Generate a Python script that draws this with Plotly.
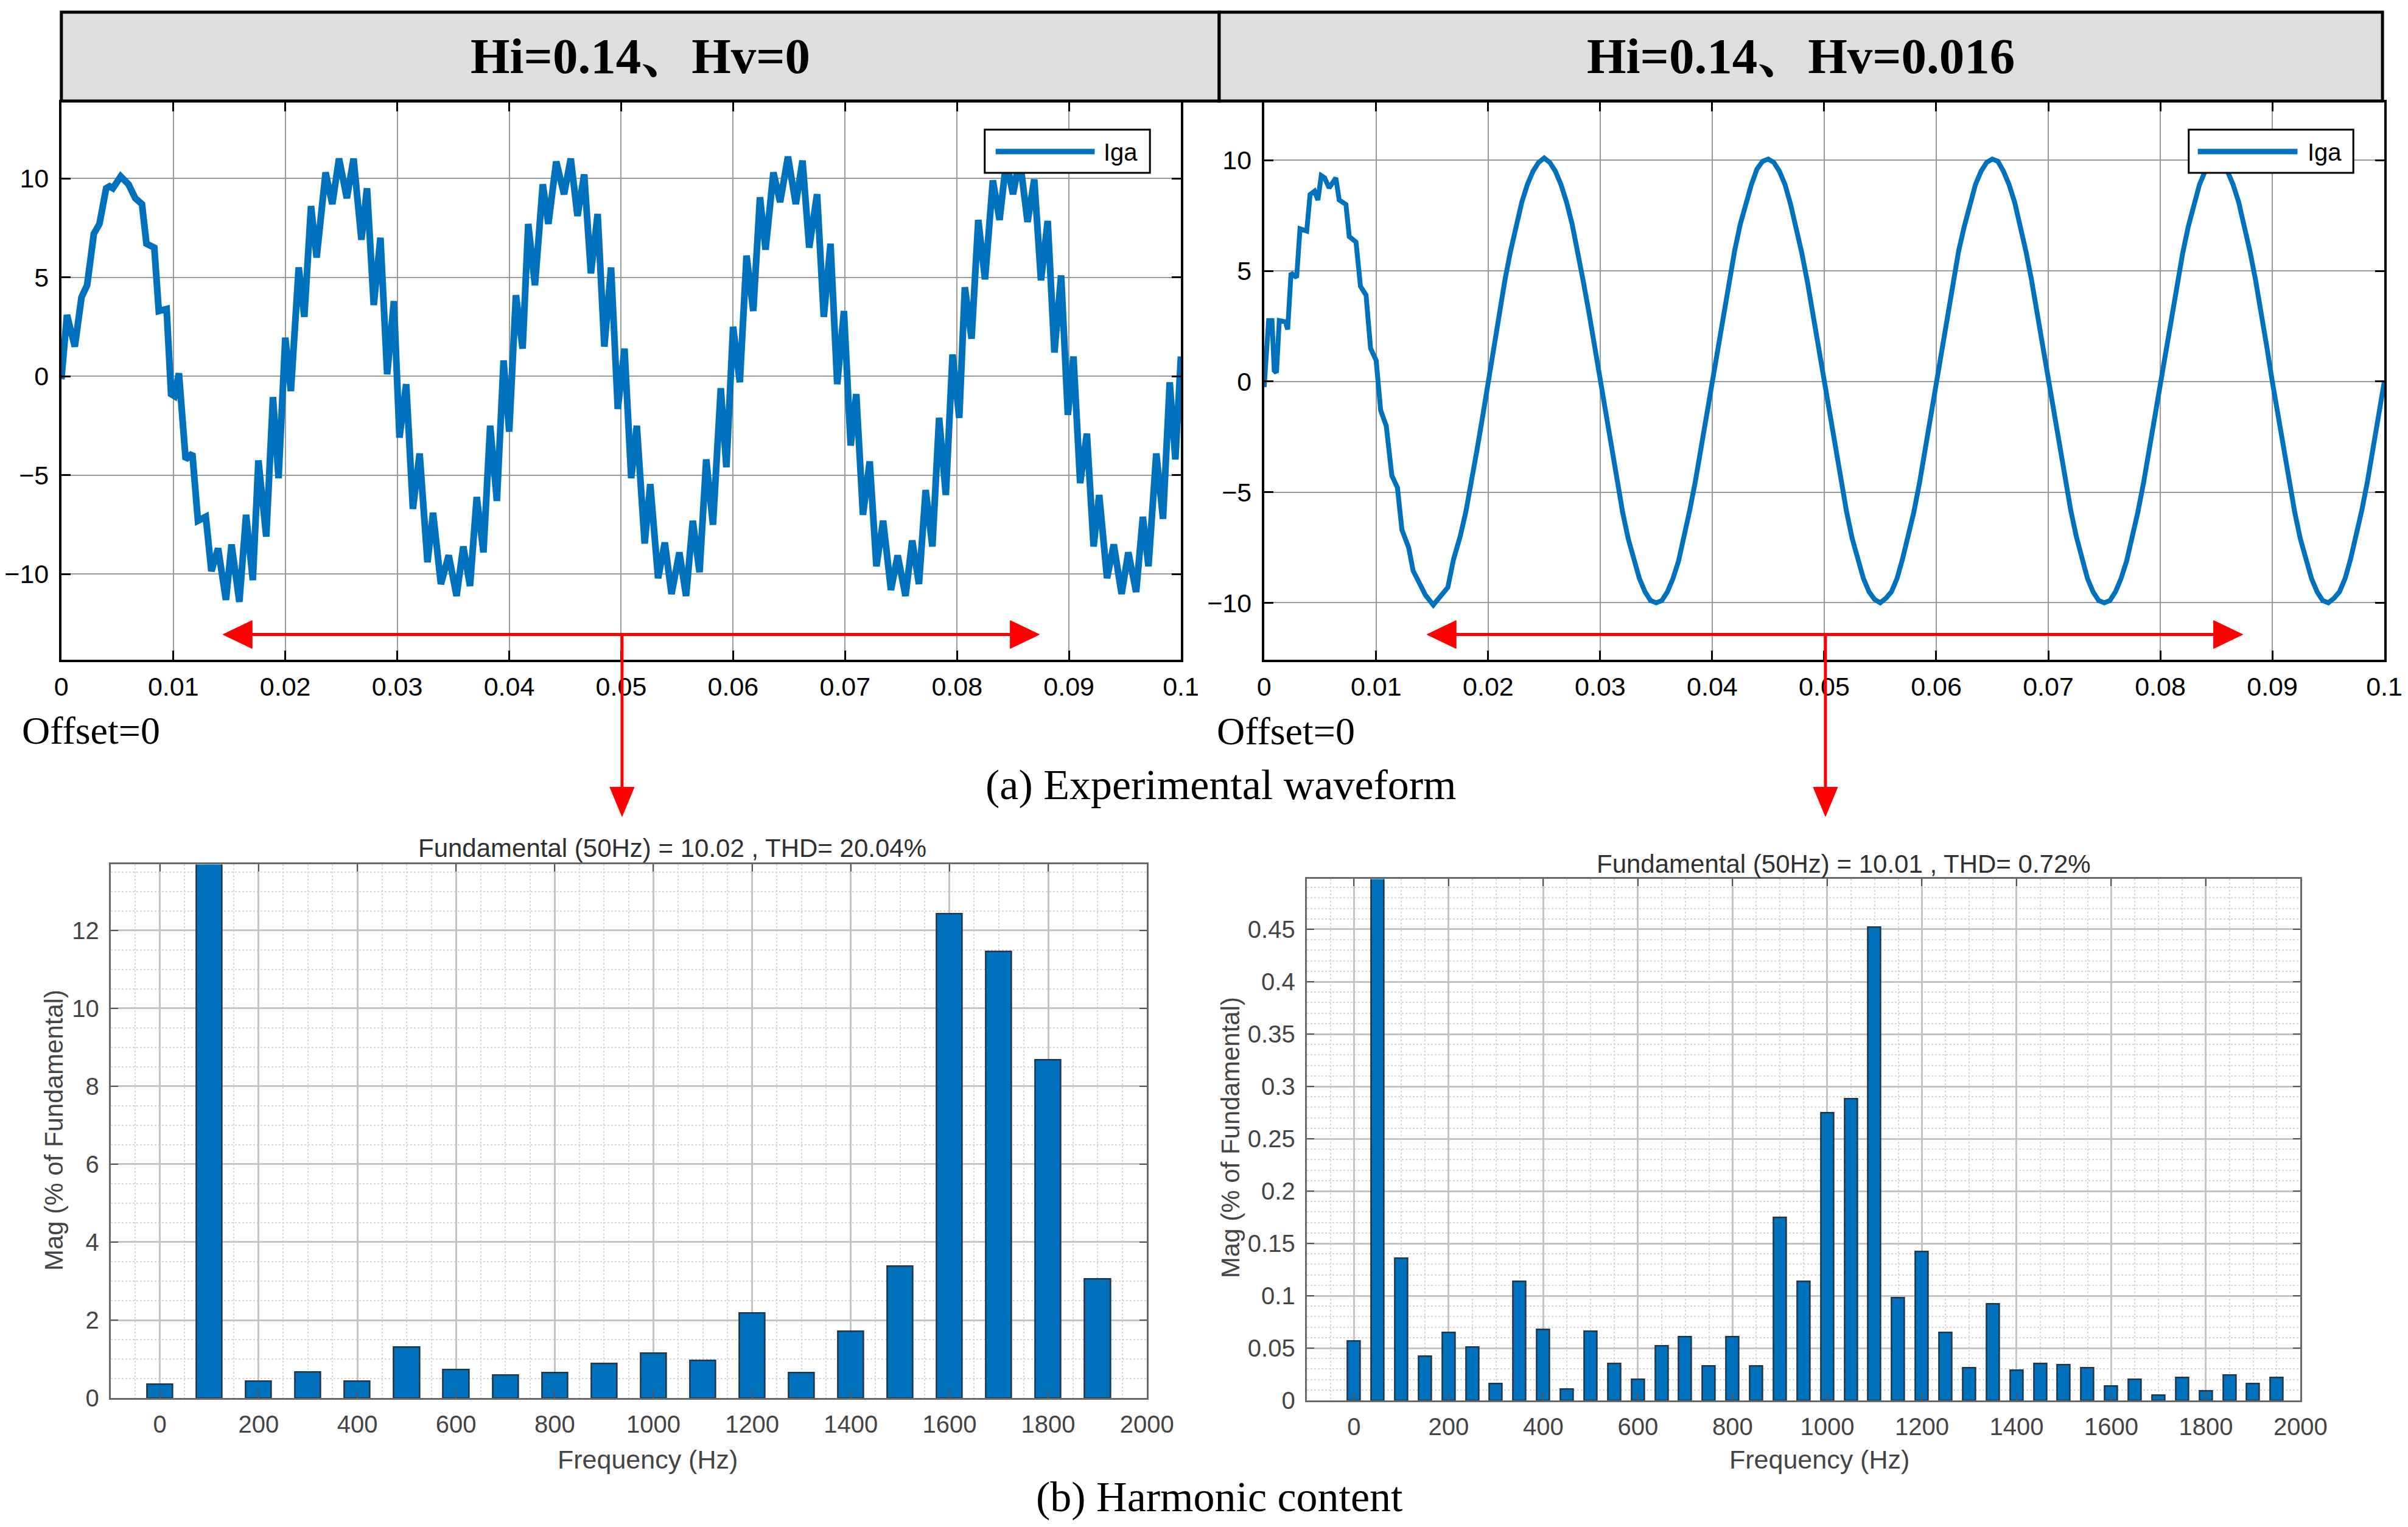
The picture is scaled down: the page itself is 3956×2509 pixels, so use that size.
import plotly.graph_objects as go

# Reference canvas (design coordinates) and the figure size in CSS px.
W, H = 3956, 2509
FIG_W, FIG_H = 4004, 2530
X_SHIFT = 8


def px(x):
    return (x - X_SHIFT) / W


def py(y):
    return 1 - y / H


# ---------------- data ----------------
# (a) left: Hi=0.14, Hv=0  (time in s, current in A)
t_hv0 = [0.0000, 0.0005, 0.0012, 0.0018, 0.0023, 0.0029, 0.0034, 0.0040, 0.0043, 0.0046,
         0.0053, 0.0060, 0.0066, 0.0072, 0.0076, 0.0083, 0.0087, 0.0094, 0.0098, 0.0101,
         0.0105, 0.0111, 0.0117, 0.0122, 0.0129, 0.0134, 0.0140, 0.0147, 0.0152, 0.0159,
         0.0165, 0.0171, 0.0176, 0.0183, 0.0189, 0.0194, 0.0200, 0.0205, 0.0212, 0.0217,
         0.0223, 0.0228, 0.0236, 0.0242, 0.0248, 0.0255, 0.0261, 0.0268, 0.0273, 0.0279,
         0.0285, 0.0291, 0.0297, 0.0302, 0.0308, 0.0314, 0.0320, 0.0327, 0.0332, 0.0339,
         0.0346, 0.0353, 0.0359, 0.0365, 0.0371, 0.0377, 0.0383, 0.0389, 0.0395, 0.0400,
         0.0406, 0.0412, 0.0417, 0.0423, 0.0430, 0.0435, 0.0442, 0.0449, 0.0455, 0.0461,
         0.0467, 0.0473, 0.0479, 0.0485, 0.0491, 0.0497, 0.0503, 0.0509, 0.0514, 0.0521,
         0.0526, 0.0533, 0.0539, 0.0545, 0.0552, 0.0558, 0.0564, 0.0570, 0.0576, 0.0582,
         0.0589, 0.0594, 0.0600, 0.0606, 0.0612, 0.0618, 0.0624, 0.0629, 0.0636, 0.0642,
         0.0649, 0.0656, 0.0662, 0.0668, 0.0675, 0.0681, 0.0687, 0.0693, 0.0699, 0.0705,
         0.0710, 0.0716, 0.0722, 0.0728, 0.0734, 0.0741, 0.0747, 0.0754, 0.0760, 0.0766,
         0.0772, 0.0778, 0.0784, 0.0790, 0.0796, 0.0802, 0.0807, 0.0813, 0.0819, 0.0825,
         0.0832, 0.0838, 0.0844, 0.0850, 0.0856, 0.0863, 0.0869, 0.0875, 0.0881, 0.0887,
         0.0893, 0.0899, 0.0904, 0.0910, 0.0916, 0.0922, 0.0927, 0.0934, 0.0940, 0.0947,
         0.0953, 0.0960, 0.0966, 0.0971, 0.0978, 0.0984, 0.0990, 0.0995, 0.1000]
iga_hv0 = [-0.15, 3.1, 1.5, 4.0, 4.6, 7.2, 7.7, 9.5, 9.6, 9.5,
           10.1, 9.7, 9.0, 8.7, 6.7, 6.5, 3.3, 3.4, -0.9, -1.0,
           0.15, -4.2, -3.9, -7.3, -7.1, -9.85, -8.7, -11.3, -8.5, -11.4,
           -7.0, -10.3, -4.25, -8.1, -1.05, -5.15, 1.95, -0.75, 5.5, 3.0,
           8.6, 6.0, 10.3, 8.7, 11.0, 9.0, 11.0, 6.9, 9.5, 3.6,
           7.0, 0.1, 3.8, -3.1, -0.4, -6.7, -3.9, -9.4, -6.9, -10.5,
           -9.05, -11.1, -8.6, -10.6, -6.1, -8.9, -2.5, -6.3, 0.8, -2.8,
           4.1, 1.4, 7.7, 4.6, 9.7, 7.7, 10.85, 9.2, 11.0, 8.1,
           10.2, 5.2, 8.2, 1.5, 5.5, -1.65, 1.4, -5.15, -2.5, -8.45,
           -5.45, -10.2, -8.4, -11.0, -8.9, -11.1, -7.3, -9.9, -4.2, -7.5,
           -0.6, -4.6, 2.5, -0.3, 6.1, 3.3, 9.05, 6.4, 10.3, 8.8,
           11.1, 8.7, 10.9, 6.5, 9.2, 3.0, 6.7, -0.4, 3.3, -3.5,
           -0.9, -7.0, -4.3, -9.6, -7.3, -10.8, -9.05, -11.1, -8.3, -10.5,
           -5.75, -8.6, -2.1, -6.0, 1.1, -2.1, 4.5, 1.9, 7.9, 4.9,
           9.9, 7.9, 10.9, 9.2, 11.0, 7.8, 9.95, 4.85, 7.85, 1.2,
           5.1, -1.95, 1.0, -5.4, -2.9, -8.6, -6.0, -10.2, -8.5, -11.0,
           -8.9, -10.9, -7.1, -9.6, -3.9, -7.2, -0.3, -4.2, 1.0]

# (a) right: Hi=0.14, Hv=0.016
t_hv016 = [0.0000, 0.0004, 0.0007, 0.0009, 0.0011, 0.00135, 0.0019, 0.0021, 0.0024, 0.0029,
           0.0032, 0.0038, 0.0041, 0.0045, 0.0048, 0.0051, 0.0054, 0.0058, 0.0064, 0.0067,
           0.0073, 0.0076, 0.0082, 0.0086, 0.0091, 0.0095, 0.0100, 0.0104, 0.0109, 0.0114,
           0.0119, 0.0123, 0.0129, 0.0133, 0.0138, 0.0144, 0.0151, 0.0158, 0.0164, 0.0169,
           0.0175, 0.0180, 0.0185, 0.0190, 0.0195, 0.0200, 0.0205, 0.0210, 0.0215, 0.0220,
           0.0225, 0.0230, 0.0235, 0.0240, 0.0245, 0.0250, 0.0255, 0.0260, 0.0265, 0.0270,
           0.0275, 0.0280, 0.0285, 0.0290, 0.0295, 0.0300, 0.0305, 0.0310, 0.0315, 0.0320,
           0.0325, 0.0330, 0.0335, 0.0340, 0.0345, 0.0350, 0.0355, 0.0360, 0.0365, 0.0370,
           0.0375, 0.0380, 0.0385, 0.0390, 0.0395, 0.0400, 0.0405, 0.0410, 0.0415, 0.0420,
           0.0425, 0.0430, 0.0435, 0.0440, 0.0445, 0.0450, 0.0455, 0.0460, 0.0465, 0.0470,
           0.0475, 0.0480, 0.0485, 0.0490, 0.0495, 0.0500, 0.0505, 0.0510, 0.0515, 0.0520,
           0.0525, 0.0530, 0.0535, 0.0540, 0.0545, 0.0550, 0.0555, 0.0560, 0.0565, 0.0570,
           0.0575, 0.0580, 0.0585, 0.0590, 0.0595, 0.0600, 0.0605, 0.0610, 0.0615, 0.0620,
           0.0625, 0.0630, 0.0635, 0.0640, 0.0645, 0.0650, 0.0655, 0.0660, 0.0665, 0.0670,
           0.0675, 0.0680, 0.0685, 0.0690, 0.0695, 0.0700, 0.0705, 0.0710, 0.0715, 0.0720,
           0.0725, 0.0730, 0.0735, 0.0740, 0.0745, 0.0750, 0.0755, 0.0760, 0.0765, 0.0770,
           0.0775, 0.0780, 0.0785, 0.0790, 0.0795, 0.0800, 0.0805, 0.0810, 0.0815, 0.0820,
           0.0825, 0.0830, 0.0835, 0.0840, 0.0845, 0.0850, 0.0855, 0.0860, 0.0865, 0.0870,
           0.0875, 0.0880, 0.0885, 0.0890, 0.0895, 0.0900, 0.0905, 0.0910, 0.0915, 0.0920,
           0.0925, 0.0930, 0.0935, 0.0940, 0.0945, 0.0950, 0.0955, 0.0960, 0.0965, 0.0970,
           0.0975, 0.0980, 0.0985, 0.0990, 0.0995, 0.1000]
iga_hv016 = [-0.25, 2.75, 2.75, 0.5, 0.4, 2.75, 2.7, 2.35, 4.9, 4.7,
             6.9, 6.8, 8.45, 8.6, 8.2, 9.3, 9.2, 8.75, 9.2, 8.2,
             8.0, 6.55, 6.3, 4.3, 3.9, 1.5, 0.95, -1.3, -2.0, -4.25,
             -4.8, -6.7, -7.5, -8.55, -9.05, -9.65, -10.1, -9.7, -9.3, -8.05,
             -7.0, -5.9, -4.6, -3.1, -1.6, 0.0, 1.6, 3.1, 4.6, 5.9,
             7.1, 8.1, 8.9, 9.5, 9.9, 10.1, 9.9, 9.5, 8.9, 8.1,
             7.1, 5.9, 4.5, 3.1, 1.6, 0.1, -1.5, -3.1, -4.6, -5.9,
             -7.1, -8.1, -8.9, -9.5, -9.9, -10.0, -9.9, -9.5, -8.9, -8.1,
             -7.0, -5.8, -4.5, -3.0, -1.5, 0.1, 1.7, 3.2, 4.6, 5.9,
             7.1, 8.1, 8.9, 9.6, 9.95, 10.05, 9.9, 9.5, 8.9, 8.0,
             7.0, 5.8, 4.5, 3.0, 1.5, 0.0, -1.6, -3.1, -4.6, -5.9,
             -7.1, -8.1, -8.9, -9.5, -9.85, -10.0, -9.8, -9.5, -8.9, -8.0,
             -7.0, -5.9, -4.6, -3.1, -1.5, 0.0, 1.6, 3.1, 4.6, 5.9,
             7.0, 8.0, 8.9, 9.5, 9.9, 10.05, 9.95, 9.5, 8.9, 8.1,
             7.1, 5.9, 4.6, 3.1, 1.6, 0.1, -1.5, -3.0, -4.5, -5.8,
             -7.0, -8.0, -8.9, -9.5, -9.9, -10.0, -9.9, -9.5, -8.9, -8.1,
             -7.1, -5.9, -4.6, -3.1, -1.6, 0.0, 1.6, 3.1, 4.5, 5.8,
             7.0, 8.0, 8.9, 9.5, 9.9, 10.0, 9.9, 9.5, 8.9, 8.1,
             7.1, 5.9, 4.6, 3.2, 1.6, 0.0, -1.5, -3.1, -4.6, -5.9,
             -7.1, -8.1, -8.9, -9.5, -9.9, -10.0, -9.8, -9.5, -8.9, -8.0,
             -7.0, -5.8, -4.5, -3.1, -1.5, 0.0]

# (b) harmonic spectra (% of fundamental)
freq_hv0 = [0, 100, 200, 300, 400, 500, 600, 700, 800, 900,
            1000, 1100, 1200, 1300, 1400, 1500, 1600, 1700, 1800, 1900]
mag_hv0 = [0.35, 100.0, 0.43, 0.66, 0.43, 1.30, 0.73, 0.59, 0.65, 0.89,
           1.15, 0.96, 2.18, 0.65, 1.71, 3.38, 12.42, 11.46, 8.67, 3.05]

freq_hv016 = [0, 50, 100, 150, 200, 250, 300, 350, 400, 450,
              500, 550, 600, 650, 700, 750, 800, 850, 900, 950,
              1000, 1050, 1100, 1150, 1200, 1250, 1300, 1350, 1400, 1450,
              1500, 1550, 1600, 1650, 1700, 1750, 1800, 1850, 1900, 1950]
mag_hv016 = [0.057, 100.0, 0.136, 0.042, 0.065, 0.051, 0.016, 0.114, 0.068, 0.011,
             0.066, 0.035, 0.020, 0.052, 0.061, 0.033, 0.061, 0.033, 0.175, 0.114,
             0.275, 0.288, 0.452, 0.098, 0.142, 0.065, 0.031, 0.092, 0.029, 0.035,
             0.034, 0.031, 0.014, 0.020, 0.005, 0.022, 0.009, 0.024, 0.016, 0.022]

# tick labels
time_ticks = [0, 0.01, 0.02, 0.03, 0.04, 0.05, 0.06, 0.07, 0.08, 0.09, 0.1]
time_tick_text = ["0", "0.01", "0.02", "0.03", "0.04", "0.05", "0.06", "0.07", "0.08", "0.09", "0.1"]
cur_ticks = [-10, -5, 0, 5, 10]
cur_tick_text = ["\u221210", "\u22125", "0", "5", "10"]
freq_ticks = [0, 200, 400, 600, 800, 1000, 1200, 1400, 1600, 1800, 2000]
freq_tick_text = ["0", "200", "400", "600", "800", "1000", "1200", "1400", "1600", "1800", "2000"]
mag0_ticks = [0, 2, 4, 6, 8, 10, 12]
mag0_tick_text = ["0", "2", "4", "6", "8", "10", "12"]
mag1_ticks = [0, 0.05, 0.1, 0.15, 0.2, 0.25, 0.3, 0.35, 0.4, 0.45]
mag1_tick_text = ["0", "0.05", "0.1", "0.15", "0.2", "0.25", "0.3", "0.35", "0.4", "0.45"]

headers = ["Hi=0.14\u3001Hv=0", "Hi=0.14\u3001Hv=0.016"]
spec_titles = ["Fundamental (50Hz) = 10.02 , THD= 20.04%",
               "Fundamental (50Hz) = 10.01 , THD= 0.72%"]

# ---------------- styles ----------------
BLUE = "#0072BD"
SANS = "Liberation Sans, Arial, Helvetica, sans-serif"
SERIF = "Liberation Serif, Times New Roman, Noto Serif CJK SC, Noto Sans CJK SC, serif"

fig = go.Figure()

fig.add_trace(go.Scatter(x=t_hv0, y=iga_hv0, mode="lines", name="Iga",
                         line=dict(color=BLUE, width=11), xaxis="x", yaxis="y",
                         showlegend=False))
fig.add_trace(go.Scatter(x=t_hv016, y=iga_hv016, mode="lines", name="Iga",
                         line=dict(color=BLUE, width=8), xaxis="x2", yaxis="y2",
                         showlegend=False))
fig.add_trace(go.Bar(x=freq_hv0, y=mag_hv0, width=52, xaxis="x3", yaxis="y3",
                     marker=dict(color=BLUE, line=dict(color="#22364a", width=2.5)),
                     showlegend=False))
fig.add_trace(go.Bar(x=freq_hv016, y=mag_hv016, width=27, xaxis="x4", yaxis="y4",
                     marker=dict(color=BLUE, line=dict(color="#22364a", width=2.5)),
                     showlegend=False))


def wave_x(dom, anchor):
    return dict(domain=dom, anchor=anchor, range=[0, 0.1], tickvals=time_ticks,
                ticktext=time_tick_text, showgrid=True, gridcolor="#9a9a9a", gridwidth=2,
                zeroline=False, showline=True, linecolor="black", linewidth=4,
                mirror="ticks", ticks="inside", ticklen=15, tickwidth=3, tickcolor="black",
                tickfont=dict(family=SANS, size=43, color="black"), ticklabelstandoff=4)


def wave_y(dom, anchor, rng):
    return dict(domain=dom, anchor=anchor, range=rng, tickvals=cur_ticks,
                ticktext=cur_tick_text, showgrid=True, gridcolor="#9a9a9a", gridwidth=2,
                zeroline=False, showline=True, linecolor="black", linewidth=4,
                mirror="ticks", ticks="inside", ticklen=15, tickwidth=3, tickcolor="black",
                tickfont=dict(family=SANS, size=43, color="black"), ticklabelstandoff=8)


def spec_x(dom, anchor):
    return dict(domain=dom, anchor=anchor, range=[-100, 2000], tickvals=freq_ticks,
                ticktext=freq_tick_text, showgrid=True, gridcolor="#c4c4c4", gridwidth=3,
                zeroline=False, showline=True, linecolor="#6a6a6a", linewidth=3,
                mirror="ticks", ticks="inside", ticklen=12, tickwidth=2, tickcolor="#555555",
                tickfont=dict(family=SANS, size=40, color="#444444"), ticklabelstandoff=6,
                minor=dict(dtick=50, tick0=0, showgrid=True, gridcolor="#d6d6d6",
                           gridwidth=2, griddash="dot"))


def spec_y(dom, anchor, rng, tv, tt, mdt):
    return dict(domain=dom, anchor=anchor, range=rng, tickvals=tv, ticktext=tt,
                showgrid=True, gridcolor="#c4c4c4", gridwidth=3,
                zeroline=False, showline=True, linecolor="#6a6a6a", linewidth=3,
                mirror="ticks", ticks="inside", ticklen=12, tickwidth=2, tickcolor="#555555",
                tickfont=dict(family=SANS, size=40, color="#444444"), ticklabelstandoff=8,
                minor=dict(dtick=mdt, tick0=0, showgrid=True, gridcolor="#d6d6d6",
                           gridwidth=2, griddash="dot"))


fig.update_layout(
    width=FIG_W, height=FIG_H, autosize=False,
    margin=dict(l=0, r=0, t=0, b=0, pad=0),
    paper_bgcolor="white", plot_bgcolor="white",
    showlegend=False, bargap=0,
    xaxis=wave_x([px(97), px(1940)], "y"),
    yaxis=wave_y([py(1084), py(168)], "x", [-14.31, 13.85]),
    xaxis2=wave_x([px(2077), px(3921)], "y2"),
    yaxis2=wave_y([py(1084), py(168)], "x2", [-12.56, 12.62]),
    xaxis3=spec_x([px(178), px(1884)], "y3"),
    yaxis3=spec_y([py(2298), py(1421)], "x3", [0, 13.69], mag0_ticks, mag0_tick_text, 0.5),
    xaxis4=spec_x([px(2147), px(3783)], "y4"),
    yaxis4=spec_y([py(2302), py(1445)], "x4", [0, 0.498], mag1_ticks, mag1_tick_text, 0.01),
)

shapes = []
# header boxes
for x0, x1 in [(97, 2003), (2003, 3918)]:
    shapes.append(dict(type="rect", xref="paper", yref="paper",
                       x0=px(x0), x1=px(x1), y0=py(166), y1=py(20),
                       fillcolor="#dedede", line=dict(color="black", width=5), layer="above"))

# custom legends
for bx0, bx1, lx0, lx1 in [(1617, 1889, 1635, 1798), (3599, 3870, 3614, 3778)]:
    shapes.append(dict(type="rect", xref="paper", yref="paper",
                       x0=px(bx0), x1=px(bx1), y0=py(284), y1=py(213),
                       fillcolor="white", line=dict(color="black", width=3), layer="above"))
    shapes.append(dict(type="line", xref="paper", yref="paper",
                       x0=px(lx0), x1=px(lx1), y0=py(249), y1=py(249),
                       line=dict(color=BLUE, width=9), layer="above"))

RED = "#ff0000"
# red arrows
for hx0, hx1, vx in [(363, 1707, 1020), (2345, 3688, 3001)]:
    ay = 1043
    shapes.append(dict(type="line", xref="paper", yref="paper",
                       x0=px(hx0 + 30), x1=px(hx1 - 30), y0=py(ay), y1=py(ay),
                       line=dict(color=RED, width=5), layer="above"))
    shapes.append(dict(type="path", xref="paper", yref="paper",
                       path=f"M {px(hx0)},{py(ay)} L {px(hx0 + 48)},{py(ay - 23)} "
                            f"L {px(hx0 + 48)},{py(ay + 23)} Z",
                       fillcolor=RED, line=dict(color=RED, width=1), layer="above"))
    shapes.append(dict(type="path", xref="paper", yref="paper",
                       path=f"M {px(hx1)},{py(ay)} L {px(hx1 - 48)},{py(ay - 23)} "
                            f"L {px(hx1 - 48)},{py(ay + 23)} Z",
                       fillcolor=RED, line=dict(color=RED, width=1), layer="above"))
    shapes.append(dict(type="line", xref="paper", yref="paper",
                       x0=px(vx), x1=px(vx), y0=py(ay), y1=py(1305),
                       line=dict(color=RED, width=5), layer="above"))
    shapes.append(dict(type="path", xref="paper", yref="paper",
                       path=f"M {px(vx)},{py(1342)} L {px(vx - 20)},{py(1294)} "
                            f"L {px(vx + 20)},{py(1294)} Z",
                       fillcolor=RED, line=dict(color=RED, width=1), layer="above"))

fig.update_layout(shapes=shapes)

ann = []


def text(x, y, s, size, family, color="black", xanchor="center", bold=False, angle=0):
    if bold:
        s = f"<b>{s}</b>"
    ann.append(dict(x=px(x), y=py(y), xref="paper", yref="paper", text=s,
                    showarrow=False, xanchor=xanchor, yanchor="middle", textangle=angle,
                    font=dict(size=size, family=family, color=color)))


text(1050, 92, headers[0], 83, SERIF, bold=True)
text(2960, 92, headers[1], 83, SERIF, bold=True)
text(1811, 250, "Iga", 40, SANS, xanchor="left")
text(3793, 250, "Iga", 40, SANS, xanchor="left")
text(30, 1201, "Offset=0", 64, SERIF, xanchor="left")
text(1997, 1202, "Offset=0", 64, SERIF, xanchor="left")
text(2006, 1290, "(a) Experimental waveform", 70, SERIF)
text(2004, 2460, "(b) Harmonic content", 70, SERIF)
text(1103, 1394, spec_titles[0], 42, SANS, color="#303030")
text(3031, 1420, spec_titles[1], 42, SANS, color="#303030")
text(1062, 2399, "Frequency (Hz)", 43, SANS, color="#444444")
text(2991, 2399, "Frequency (Hz)", 43, SANS, color="#444444")
text(84, 1858, "Mag (% of Fundamental)", 42, SANS, color="#444444", angle=-90)
text(2021, 1870, "Mag (% of Fundamental)", 42, SANS, color="#444444", angle=-90)

fig.update_layout(annotations=ann)

fig.write_html(
    "out.html",
    config={"displayModeBar": False},
    post_script="document.body.style.margin='0';document.body.style.padding='0';"
                "document.body.style.overflow='hidden';"
                "document.documentElement.style.overflow='hidden';",
)
